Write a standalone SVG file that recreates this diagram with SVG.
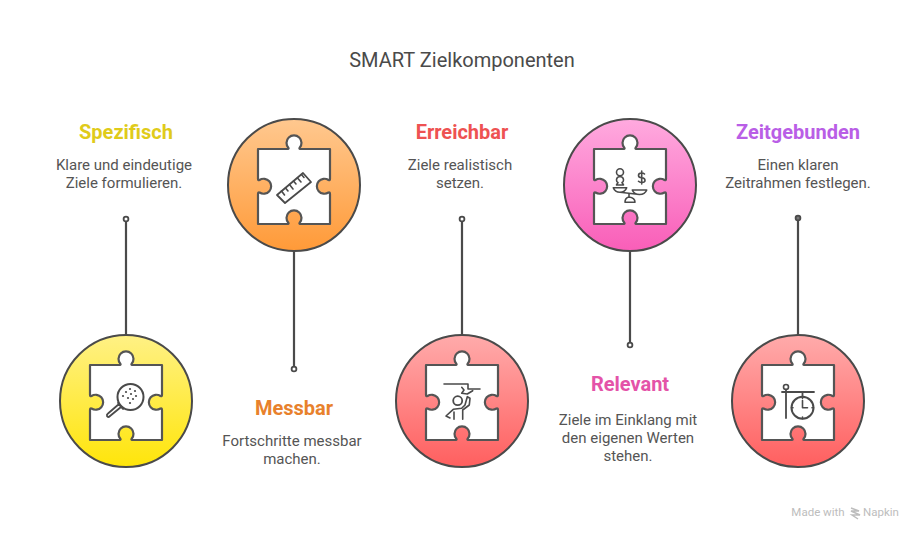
<svg xmlns="http://www.w3.org/2000/svg" width="924" height="540" viewBox="0 0 924 540">
<style>
text{font-family:Roboto,"Liberation Sans",sans-serif;text-anchor:middle}
.t{font-size:20px;fill:#4a4a4a}
.h{font-size:20px;font-weight:700}
.d{font-size:15px;fill:#555}
.c{stroke:#4a4a4a;stroke-width:2}
.p{fill:#fff;stroke:#555;stroke-width:2.2;stroke-linejoin:round}
.i{fill:none;stroke:#4a4a4a;stroke-width:1.6;stroke-linecap:round;stroke-linejoin:round}
.l{fill:none;stroke:#4a4a4a;stroke-width:2.2}
.o{fill:#fff;stroke:#4a4a4a;stroke-width:1.8}
</style>
<defs>
<linearGradient id="gy" x1="0" y1="0" x2="0" y2="1"><stop offset="0" stop-color="#fff185"/><stop offset="1" stop-color="#ffe50a"/></linearGradient>
<linearGradient id="go" x1="0" y1="0" x2="0" y2="1"><stop offset="0" stop-color="#ffc88f"/><stop offset="1" stop-color="#ff9a38"/></linearGradient>
<linearGradient id="gr" x1="0" y1="0" x2="0" y2="1"><stop offset="0" stop-color="#ffabab"/><stop offset="1" stop-color="#ff5f5f"/></linearGradient>
<linearGradient id="gp" x1="0" y1="0" x2="0" y2="1"><stop offset="0" stop-color="#ffaadf"/><stop offset="1" stop-color="#f95eb8"/></linearGradient>
<path id="piece" class="p" d="M-36,-37 H-7 Q-5,-37 -5.5,-38 A7.5,7.5 0 1 1 5.5,-38 Q5,-37 7,-37 H36 V-7 Q36,-5.500 34.500,-6 A7.5,7.5 0 1 0 34.500,6.500 Q36,6 36,8 V38 H7 Q5,38 5.5,37 A7.5,7.5 0 1 0 -5.5,37 Q-5,38 -7,38 H-36 V8 Q-36,6 -34.500,6.500 A7.5,7.5 0 1 0 -34.500,-6 Q-36,-5.500 -36,-7 Z"/>
</defs>
<rect width="924" height="540" fill="#fff"/>
<text class="t" x="462" y="67">SMART Zielkomponenten</text>
<g id="connectors">
<path class="l" d="M126,221V335M294,251V367M462,221V335M630,251V343M798,220V335"/>
<circle class="o" cx="126" cy="219" r="2.400"/>
<circle class="o" cx="294" cy="369" r="2.400"/>
<circle class="o" cx="462" cy="219" r="2.400"/>
<circle class="o" cx="630" cy="345" r="2.400"/>
<circle class="o" cx="798" cy="218" r="2.400" style="fill:#777"/>
</g>
<g id="spezifisch">
<circle class="c" cx="126" cy="401" r="66" fill="url(#gy)"/>
<use href="#piece" x="126" y="402"/>
<g class="i" transform="translate(126,402)"><circle cx="4.500" cy="-5" r="13" stroke-width="2"/><path d="M-5,5 L-16,14 Q-18,16 -19,14 Q-19.500,12.500 -18,11.500 L-7,2 Z M-8,1 L-3,7" stroke-width="1.800"/>
<g fill="#4a4a4a" stroke="none"><circle cx="4" cy="-13" r="1.100"/><circle cx="9" cy="-11" r="1.100"/><circle cx="0" cy="-10" r="1.100"/><circle cx="5" cy="-8" r="1.100"/><circle cx="10" cy="-6" r="1.100"/><circle cx="-3" cy="-6" r="1.100"/><circle cx="2" cy="-4" r="1.100"/><circle cx="7" cy="-3" r="1.100"/><circle cx="4" cy="1" r="1.100"/></g></g>
</g>
<g id="messbar">
<circle class="c" cx="294" cy="185" r="66" fill="url(#go)"/>
<use href="#piece" x="294" y="186"/>
<g class="i" transform="translate(294,186)"><path d="M-17,9 L9,-13 L17,-4 L-9,17 Z" stroke-width="1.800"/><path d="M-12.500,5 L-9.500,9 M-8.500,2 L-6,5 M-4.500,-1.500 L-1,3 M-.5,-5 L2,-2 M3.500,-8 L7,-4 M7.500,-11.500 L10,-8.500"/></g>
</g>
<g id="erreichbar">
<circle class="c" cx="462" cy="401" r="66" fill="url(#gr)"/>
<use href="#piece" x="462" y="402"/>
<g class="i" transform="translate(462,402)"><path d="M-18,-18 H6 V-13 H18"/><circle cx="-4.300" cy="-1.300" r="4.500" stroke-width="1.800"/><path d="M-16,14 L-8.700,7.300 L-.3,6.300 L3,3 L5.300,-5.300 M8,-3.700 L7.300,3 L.7,8 V17.300 M-8,10 V17.300 M-16,14 L-12,16 M-.3,-14.700 L2,-12 L-.3,-8.700 L5.300,-8 L10.700,-11.300 M5.300,-5.300 L8,-3.700"/></g>
</g>
<g id="relevant">
<circle class="c" cx="630" cy="185" r="66" fill="url(#gp)"/>
<use href="#piece" x="630" y="186"/>
<g class="i" transform="translate(630,186)"><circle cx="-10" cy="-13.700" r="3.500"/><path d="M-10,-9.500 Q-13.500,-9 -13.500,-6 Q-13.500,-4 -12,-3.500 L-13.500,-1 H-6.500 L-8,-3.500 Q-6.500,-4 -6.500,-6 Q-6.500,-9 -10,-9.500Z"/><path d="M-16.700,1.700 H-3.300 Q-5,6.300 -10,6.300 Q-15,6.300 -16.700,1.700Z M2.300,4 H16.700 Q15,8.500 9.500,8.500 Q4,8.500 2.300,4Z M-10,6.300 L9.500,8.500 M-1,8 V11 M-1,11 Q-5,12 -5,16.300 H5 Q5,12 -1,11Z"/><path d="M14.500,-12 Q13.500,-13 11.500,-13 Q8.500,-13 8.500,-10.500 Q8.500,-8.500 11.700,-8.200 Q15,-8 15,-5.500 Q15,-3.500 11.700,-3.500 Q9.500,-3.500 8.500,-4.700 M11.700,-15 V-2"/></g>
</g>
<g id="zeitgebunden">
<circle class="c" cx="798" cy="401" r="66" fill="url(#gr)"/>
<use href="#piece" x="798" y="402"/>
<g class="i" transform="translate(798,402)"><circle cx="-12" cy="-15" r="2.500"/><path d="M-12,-12.500 V16 M-16,-10 H16 M4.500,-10 V-5.300" stroke-width="1.800"/><circle cx="4.500" cy="5.700" r="11" stroke-width="2"/><path d="M4.500,-1.500 V5.700 H9.500 M4.500,-5 V-3.500 M4.500,15 V16.700 M-6.500,5.700 H-5 M14,5.700 H15.500"/></g>
</g>
<text class="h" x="126" y="139" fill="#e0cb1a">Spezifisch</text>
<text class="d" x="124" y="170">Klare und eindeutige</text>
<text class="d" x="124" y="188">Ziele formulieren.</text>
<text class="h" x="294" y="415" fill="#e8812c">Messbar</text>
<text class="d" x="292" y="446">Fortschritte messbar</text>
<text class="d" x="292" y="464">machen.</text>
<text class="h" x="462" y="139" fill="#ee5252">Erreichbar</text>
<text class="d" x="460" y="170">Ziele realistisch</text>
<text class="d" x="460" y="188">setzen.</text>
<text class="h" x="630" y="391" fill="#e453a8">Relevant</text>
<text class="d" x="628" y="425">Ziele im Einklang mit</text>
<text class="d" x="628" y="443">den eigenen Werten</text>
<text class="d" x="628" y="461">stehen.</text>
<text class="h" x="798" y="139" fill="#b95ee6">Zeitgebunden</text>
<text class="d" x="798" y="170">Einen klaren</text>
<text class="d" x="798" y="188">Zeitrahmen festlegen.</text>
<g id="credit"><text x="818" y="516" font-size="11.500" fill="#bdbdbd">Made with</text>
<path d="M851,508 L859,511 L851,511 L860,515 L852,515 L858,519" fill="none" stroke="#bdbdbd" stroke-width="1.500"/>
<text x="881" y="516" font-size="11.500" fill="#bdbdbd">Napkin</text></g>
</svg>
